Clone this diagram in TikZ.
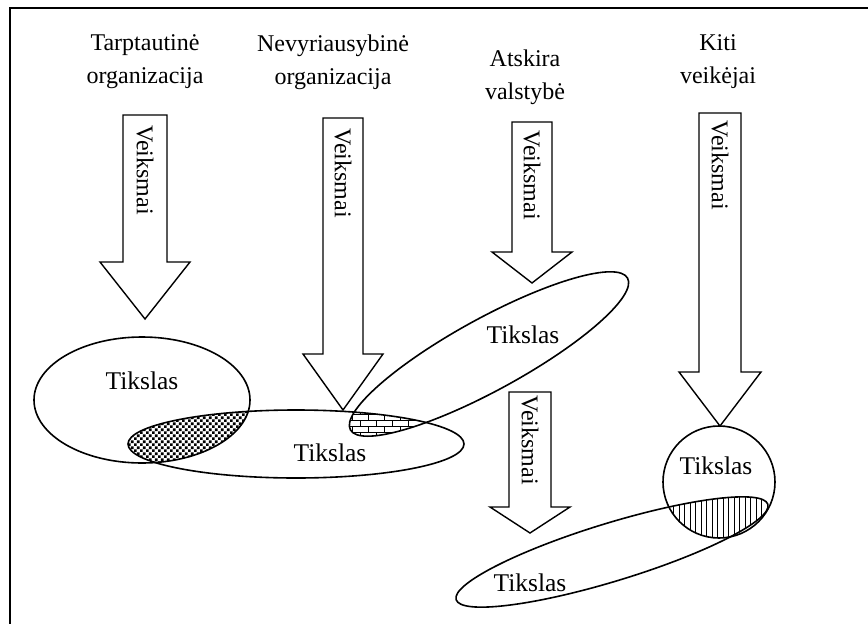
\documentclass[tikz,border=0pt]{standalone}
\usepackage{fontspec}
\setmainfont{Liberation Serif}
\usetikzlibrary{patterns}
\pgfdeclarepatternformonly{sqdots}{\pgfqpoint{0pt}{0pt}}{\pgfqpoint{6.4pt}{6.4pt}}{\pgfqpoint{6.4pt}{6.4pt}}{%
 \pgfpathrectangle{\pgfqpoint{0pt}{0pt}}{\pgfqpoint{2.9pt}{2.9pt}}%
 \pgfpathrectangle{\pgfqpoint{3.2pt}{3.2pt}}{\pgfqpoint{2.9pt}{2.9pt}}%
 \pgfusepath{fill}}
\pgfdeclarepatternformonly{brickwall}{\pgfqpoint{-1pt}{-1pt}}{\pgfqpoint{17pt}{13pt}}{\pgfqpoint{16pt}{12pt}}{%
 \pgfsetlinewidth{0.9pt}%
 \pgfpathmoveto{\pgfqpoint{0pt}{0pt}}\pgfpathlineto{\pgfqpoint{16pt}{0pt}}%
 \pgfpathmoveto{\pgfqpoint{0pt}{6pt}}\pgfpathlineto{\pgfqpoint{16pt}{6pt}}%
 \pgfpathmoveto{\pgfqpoint{0pt}{0pt}}\pgfpathlineto{\pgfqpoint{0pt}{6pt}}%
 \pgfpathmoveto{\pgfqpoint{8pt}{6pt}}\pgfpathlineto{\pgfqpoint{8pt}{12pt}}%
 \pgfusepath{stroke}}
\pgfdeclarepatternformonly{vlines}{\pgfqpoint{-1pt}{-1pt}}{\pgfqpoint{6.5pt}{6.5pt}}{\pgfqpoint{5.5pt}{5.5pt}}{%
 \pgfsetlinewidth{1.4pt}%
 \pgfpathmoveto{\pgfqpoint{2.75pt}{-1pt}}\pgfpathlineto{\pgfqpoint{2.75pt}{6.5pt}}%
 \pgfusepath{stroke}}
\tikzset{
  txt/.style={font=\fontsize{24}{33}\selectfont, inner sep=0pt, align=center},
  goaltxt/.style={font=\fontsize{25.5}{30}\selectfont, inner sep=0pt},
  vtxt/.style={txt, rotate=-90},
  blockarr/.style={draw, fill=white, line width=1.4pt, line join=miter},
  goal/.style={draw, line width=1.6pt}
}
\begin{document}
\begin{tikzpicture}[x=1pt,y=-1pt]
\useasboundingbox (0,0) rectangle (868,624);
% frame
\coordinate (fbl) at (10,624);
\coordinate (ftl) at (10,8);
\coordinate (ftr) at (868,8);
\draw[line width=2pt] (fbl) -- (ftl) -- (ftr);

% patterned intersections
\begin{scope}
  \clip (142,400) ellipse [x radius=108pt, y radius=63pt];
  \fill[pattern=sqdots] (296,444) ellipse [x radius=168pt, y radius=34pt];
\end{scope}
\begin{scope}
  \clip (296,444) ellipse [x radius=168pt, y radius=34pt];
  \fill[pattern=brickwall, rotate around={28.7:(489,354)}] (489,354) ellipse [x radius=158pt, y radius=36pt];
\end{scope}
\begin{scope}
  \clip (719,482) circle [radius=56pt];
  \fill[pattern=vlines, rotate around={17:(612,552)}] (612,552) ellipse [x radius=163pt, y radius=29pt];
\end{scope}

% goal ellipses
\draw[goal] (142,400) ellipse [x radius=108pt, y radius=63pt];
\draw[goal] (296,444) ellipse [x radius=168pt, y radius=34pt];
\draw[goal, rotate around={28.7:(489,354)}] (489,354) ellipse [x radius=158pt, y radius=36pt];
\draw[goal] (719,482) circle [radius=56pt];
\draw[goal, rotate around={17:(612,552)}] (612,552) ellipse [x radius=163pt, y radius=29pt];

% block arrows
\draw[blockarr] (123,115) -- (167,115) -- (167,262) -- (190,262) -- (145,319) -- (100,262) -- (123,262) -- cycle;
\draw[blockarr] (323,118) -- (363,118) -- (363,354) -- (383,354) -- (343,410) -- (303,354) -- (323,354) -- cycle;
\draw[blockarr] (512,122) -- (552,122) -- (552,252) -- (572,252) -- (532,283) -- (492,252) -- (512,252) -- cycle;
\draw[blockarr] (699,113) -- (741,113) -- (741,372) -- (761,372) -- (720,426) -- (679,372) -- (699,372) -- cycle;
\draw[blockarr] (509,392) -- (551,392) -- (551,507) -- (570,507) -- (530,533) -- (490,507) -- (509,507) -- cycle;

% texts
\node[txt] (h1) at (145,62) {Tarptautinė\\organizacija};
\node[txt] (h2) at (333,62) {Nevyriausybinė\\organizacija};
\node[txt] (h3) at (525,77) {Atskira\\valstybė};
\node[txt] (h4) at (718,62) {Kiti\\veikėjai};

\node[vtxt] (v1) at (145,170) {Veiksmai};
\node[vtxt] (v2) at (343,173) {Veiksmai};
\node[vtxt] (v3) at (532,175) {Veiksmai};
\node[vtxt] (v4) at (720,165) {Veiksmai};
\node[vtxt] (v5) at (530,440) {Veiksmai};

\node[goaltxt] (t1) at (142,381) {Tikslas};
\node[goaltxt] (t2) at (330,453) {Tikslas};
\node[goaltxt] (t3) at (523,335) {Tikslas};
\node[goaltxt] (t4) at (716,466) {Tikslas};
\node[goaltxt] (t5) at (530,583) {Tikslas};
\end{tikzpicture}
\end{document}
